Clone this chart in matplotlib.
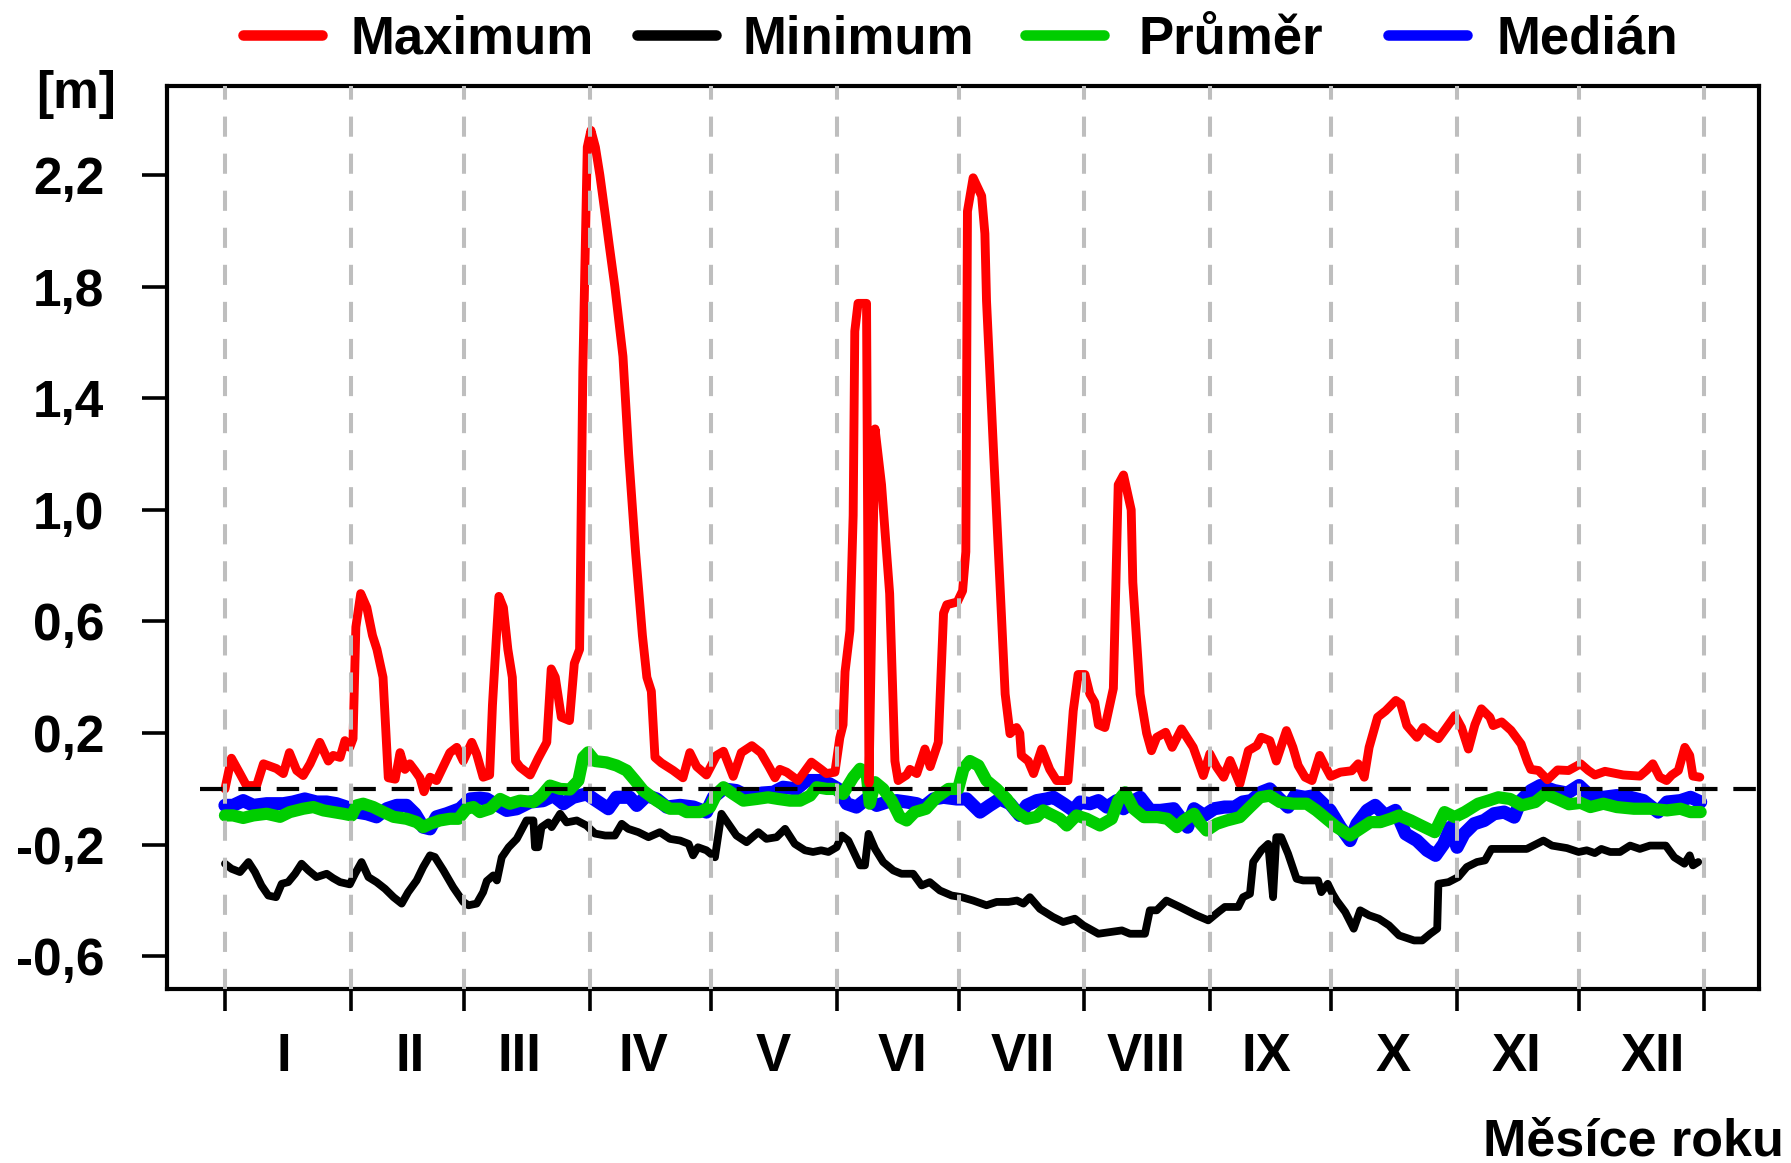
import matplotlib
matplotlib.use("Agg")
import matplotlib.pyplot as plt
from matplotlib.lines import Line2D
import matplotlib.transforms as mtransforms
import numpy as np

# ---------------- data ----------------
months = ["I", "II", "III", "IV", "V", "VI", "VII", "VIII", "IX", "X", "XI", "XII"]
month_days = [31, 28, 31, 30, 31, 30, 31, 31, 30, 31, 30, 31]
month_label_day = [14.6, 45.6, 72.7, 103.2, 135.3, 167.2, 196.8, 227.2, 257.0, 288.2, 318.7, 352.3]
y_ticks = [-0.6, -0.2, 0.2, 0.6, 1.0, 1.4, 1.8, 2.2]
series_names = ["Maximum", "Minimum", "Průměr", "Medián"]
series_colors = ["#FF0000", "#000000", "#00CD00", "#0000FF"]

max_day = [0, 1.6, 3.7, 5.3, 7.8, 9.5, 12.7, 14.4, 15.9, 17.7, 19.3, 21, 23.4, 25.5, 26.7, 28.4,
           29.6, 30.8, 31.6, 32.3, 33.5, 35, 36.4, 37.5, 39.0, 40.3, 42, 43.2, 44.4, 45.6, 46.9,
           48.1, 49.1, 50.6, 52.2, 55.5, 57.2, 58.8, 60.9, 62.1, 63.7, 65.3, 66, 67, 67.6, 68.7,
           69.8, 70.9, 71.7, 72.8, 75.3, 77.3, 79.4, 80.5, 81.5, 83, 85, 86.2, 87.5, 88.3, 89.4,
           90.3, 91.4, 92.5, 93.9, 94.8, 96.2, 98.2, 99.6, 101.3, 103, 104.1, 105.2, 106.1, 107.7,
           110.6, 113, 114.7, 116.4, 118.8, 121.3, 123, 125.4, 127.4, 130, 132.2, 134.2, 135.7,
           136.9, 138.6, 141.4, 144.7, 147.1, 148.4, 150.5, 151.7, 152.5, 153, 154.2, 155, 155.4,
           156.2, 158.3, 158.9, 160.4, 162, 164, 165.3, 166.1, 168.2, 169, 170.7, 172.7, 174,
           176, 177.3, 178.1, 180.7, 182, 182.8, 183.2, 184.6, 186.7, 187.5, 187.9, 189.6, 191.2,
           192.5, 193.7, 195.3, 196.1, 196.5, 198.2, 199.5, 201.5, 203.5, 205.2, 208, 209.3,
           210.5, 212.2, 213.4, 214.6, 215.5, 217.1, 219.2, 220.4, 221.7, 223.6, 224, 225.8,
           227.4, 228.6, 229.9, 232.1, 233.7, 236, 238.9, 241.4, 243, 244.7, 246.4, 248, 250.4,
           252.5, 254.6, 255.7, 257.8, 259.4, 261.9, 263.5, 264.8, 266.5, 268.2, 270.1, 271.5,
           272.8, 275.2, 278, 279.6, 281.1, 282.3, 284.4, 286.4, 288.9, 290.1, 291.6, 294.1,
           295.7, 297.3, 299.4, 301.4, 303.5, 305.1, 306.8, 308.4, 310, 312.1, 312.9, 315, 317.3,
           319.8, 321.4, 322.2, 324.1, 326.3, 328.8, 331.5, 334.5, 336.4, 338, 340.5, 345, 349.1,
           350.7, 352.3, 354, 355.7, 357, 358.6, 360.2, 361.4, 362.2, 363.9]
max_val = [0.00, 0.11, 0.055, 0.012, 0.012, 0.09, 0.073, 0.055, 0.13, 0.066, 0.048, 0.09, 0.167,
           0.10, 0.12, 0.113, 0.173, 0.149, 0.18, 0.58, 0.70, 0.65, 0.55, 0.50, 0.40, 0.04, 0.035,
           0.13, 0.07, 0.09, 0.065, 0.04, -0.01, 0.042, 0.03, 0.13, 0.149, 0.10, 0.167, 0.125,
           0.042, 0.05, 0.30, 0.55, 0.69, 0.65, 0.50, 0.40, 0.10, 0.078, 0.05, 0.11, 0.167, 0.43,
           0.40, 0.257, 0.245, 0.45, 0.50, 1.50, 2.30, 2.36, 2.30, 2.20, 2.05, 1.95, 1.80, 1.55,
           1.20, 0.85, 0.55, 0.40, 0.35, 0.113, 0.093, 0.066, 0.04, 0.13, 0.08, 0.05, 0.12, 0.135,
           0.045, 0.13, 0.155, 0.13, 0.08, 0.04, 0.07, 0.06, 0.03, 0.096, 0.07, 0.055, 0.06, 0.183,
           0.23, 0.42, 0.567, 0.98, 1.64, 1.74, 1.74, 0.02, 1.29, 1.09, 0.70, 0.10, 0.03, 0.05,
           0.07, 0.055, 0.143, 0.08, 0.167, 0.63, 0.66, 0.67, 0.71, 0.85, 2.07, 2.19, 2.125, 1.99,
           1.75, 1.22, 0.74, 0.34, 0.198, 0.22, 0.20, 0.12, 0.10, 0.055, 0.143, 0.07, 0.03, 0.03,
           0.28, 0.41, 0.41, 0.34, 0.31, 0.23, 0.22, 0.36, 1.09, 1.125, 1.00, 0.74, 0.34, 0.20,
           0.137, 0.185, 0.203, 0.149, 0.215, 0.149, 0.048, 0.126, 0.078, 0.042, 0.102, 0.018,
           0.137, 0.155, 0.185, 0.173, 0.10, 0.209, 0.149, 0.084, 0.042, 0.03, 0.12, 0.08, 0.045,
           0.06, 0.065, 0.09, 0.042, 0.149, 0.257, 0.28, 0.317, 0.305, 0.227, 0.185, 0.22, 0.20,
           0.18, 0.22, 0.263, 0.22, 0.143, 0.23, 0.287, 0.257, 0.227, 0.24, 0.21, 0.161, 0.096,
           0.07, 0.066, 0.033, 0.068, 0.066, 0.09, 0.066, 0.05, 0.063, 0.05, 0.046, 0.066, 0.09,
           0.042, 0.03, 0.05, 0.066, 0.149, 0.12, 0.046, 0.042]

min_day = [0, 1.6, 3.7, 5.8, 7.4, 9.0, 10.7, 12.6, 14.0, 15.6, 17.3, 18.9, 20.6, 22.6, 25.1, 26.7,
           28.4, 30.8, 32.1, 33.7, 35.4, 37.4, 39.5, 41.6, 43.6, 45.2, 47.3, 48.9, 50.6, 51.8, 53.9,
           56.3, 58.8, 60.1, 62.1, 63.7, 64.6, 66.2, 67.1, 68.3, 70, 72, 74.4, 76.1, 76.5, 77.3,
           78.1, 79.8, 80.6, 82.7, 84.3, 86.8, 89.2, 91.3, 93.8, 96.2, 97.9, 99.5, 102, 104.5,
           107.3, 109.8, 112.3, 114.4, 115.5, 116.7, 118.8, 120.9, 122.5, 124.2, 126.2, 128.7,
           131.6, 133.6, 136.1, 138.2, 140.6, 143.1, 145.1, 147.1, 148.9, 150.9, 152.2, 153.8,
           156.7, 157.9, 158.8, 160.4, 162.4, 164.9, 166.9, 169.8, 171.9, 173.9, 176.4, 179.3,
           181.8, 184.6, 187.9, 190.4, 193.3, 195.4, 197, 198.6, 201.1, 204.3, 206.8, 209.7,
           211.8, 215.5, 221.3, 223.3, 227, 228.2, 229.9, 232.3, 235.6, 239.7, 242.6, 245.1,
           246.7, 250, 251.2, 252.9, 253.7, 255.7, 257.4, 258.6, 259.4, 260.6, 262.3, 264.4, 266,
           269.7, 270.5, 272.1, 273.3, 274.3, 276.4, 278.5, 280.1, 282.3, 284.7, 287.2, 289.7,
           293.4, 295.4, 297.4, 299.1, 299.4, 301.9, 304.3, 306.4, 308.9, 310.9, 312.5, 315,
           321.2, 325.3, 327.4, 331.1, 334, 336, 338, 339.6, 341.8, 344.2, 346.7, 349.1, 351.6,
           355.5, 357.6, 360.1, 361.4, 362.2, 363.5]
min_val = [-0.268, -0.286, -0.298, -0.262, -0.298, -0.346, -0.382, -0.388, -0.34, -0.334, -0.304,
           -0.268, -0.292, -0.316, -0.304, -0.32, -0.334, -0.342, -0.304, -0.262, -0.316, -0.334,
           -0.358, -0.388, -0.411, -0.37, -0.328, -0.28, -0.238, -0.244, -0.292, -0.352, -0.405,
           -0.417, -0.411, -0.37, -0.33, -0.31, -0.328, -0.245, -0.209, -0.179, -0.113, -0.113,
           -0.209, -0.209, -0.137, -0.12, -0.137, -0.089, -0.12, -0.113, -0.131, -0.16, -0.167,
           -0.167, -0.125, -0.143, -0.155, -0.173, -0.155, -0.179, -0.185, -0.197, -0.238, -0.209,
           -0.22, -0.245, -0.089, -0.125, -0.167, -0.191, -0.155, -0.179, -0.173, -0.143, -0.197,
           -0.22, -0.226, -0.22, -0.226, -0.209, -0.167, -0.185, -0.274, -0.274, -0.161, -0.215,
           -0.262, -0.292, -0.304, -0.304, -0.346, -0.334, -0.364, -0.382, -0.388, -0.40, -0.417,
           -0.405, -0.405, -0.40, -0.411, -0.388, -0.43, -0.459, -0.477, -0.465, -0.489, -0.519,
           -0.507, -0.519, -0.519, -0.435, -0.435, -0.40, -0.423, -0.453, -0.471, -0.441, -0.423,
           -0.423, -0.388, -0.376, -0.262, -0.22, -0.197, -0.388, -0.173, -0.173, -0.232, -0.322,
           -0.328, -0.328, -0.37, -0.34, -0.376, -0.40, -0.441, -0.501, -0.435, -0.453, -0.465,
           -0.489, -0.525, -0.543, -0.543, -0.519, -0.501, -0.34, -0.334, -0.316, -0.28, -0.262,
           -0.256, -0.215, -0.215, -0.215, -0.185, -0.203, -0.212, -0.226, -0.22, -0.23, -0.215,
           -0.226, -0.226, -0.203, -0.215, -0.203, -0.203, -0.245, -0.268, -0.238, -0.274, -0.262]

mean_day = [0, 2, 4.5, 7, 10.3, 13.6, 16, 19.3, 21.8, 24.3, 26.7, 29.2, 31.3, 32.5, 34.1, 36.6,
            39.1, 41.6, 44.8, 47.3, 48.9, 50.6, 53, 55.5, 57.6, 59.6, 61.3, 62.9, 65.4, 67.9,
            70.3, 72.8, 76.1, 78.1, 80.2, 82.7, 85.1, 87.2, 88.4, 89.6, 91.3, 94.1, 96.6, 99.1,
            101.2, 103.2, 106.5, 109.8, 112.3, 113.9, 117.2, 119.7, 121.3, 123, 125.4, 127.9,
            131.2, 134, 136.5, 139.4, 141.9, 144.4, 146, 148.5, 150.5, 152.5, 155, 156.7, 158.3,
            159.1, 160.4, 162.4, 164.5, 166.5, 168.2, 170.2, 173, 175.6, 178.5, 180.9, 182.2,
            183.8, 185.9, 187.9, 190.4, 192.9, 195.3, 197.8, 200.3, 201.9, 203.5, 206, 207.7,
            210.1, 212.6, 215.9, 218.8, 220.4, 222.1, 224.2, 226.7, 230.1, 232.5, 234.9, 236.6,
            239.1, 240.7, 242.2, 244.7, 247.2, 250.4, 252.9, 255.4, 257.8, 260.3, 263.6, 266.9,
            269.3, 271.8, 274.3, 277.6, 280.1, 282.6, 285.1, 287.6, 289.7, 292.6, 295.1, 298.5,
            300.9, 303.4, 305.9, 309.2, 311.7, 314.2, 317.1, 320, 323.3, 325.8, 328.7, 331.6,
            334.5, 336.9, 340.1, 343.4, 347.6, 351.7, 355.8, 359.1, 361.6, 364.1]
mean_val = [-0.095, -0.095, -0.104, -0.095, -0.089, -0.10, -0.083, -0.071, -0.065, -0.077, -0.083,
            -0.089, -0.095, -0.059, -0.053, -0.065, -0.083, -0.10, -0.107, -0.119, -0.137, -0.125,
            -0.113, -0.107, -0.107, -0.071, -0.065, -0.083, -0.071, -0.036, -0.053, -0.042,
            -0.047, -0.024, 0.012, 0.0, -0.002, 0.03, 0.113, 0.131, 0.10, 0.095, 0.084, 0.066,
            0.03, -0.006, -0.042, -0.071, -0.071, -0.083, -0.083, -0.065, -0.018, 0.006, -0.018,
            -0.042, -0.036, -0.03, -0.036, -0.042, -0.042, -0.024, 0.006, 0.0, 0.0, -0.018, 0.042,
            0.072, 0.06, -0.053, 0.024, 0.0, -0.042, -0.101, -0.113, -0.083, -0.071, -0.03, 0.0,
            0.0, 0.072, 0.10, 0.084, 0.03, 0.0, -0.036, -0.083, -0.107, -0.10, -0.077, -0.089,
            -0.107, -0.131, -0.095, -0.107, -0.131, -0.107, -0.042, -0.012, -0.071, -0.101,
            -0.101, -0.107, -0.137, -0.113, -0.089, -0.125, -0.149, -0.125, -0.113, -0.101,
            -0.065, -0.03, -0.024, -0.047, -0.053, -0.053, -0.077, -0.107, -0.137, -0.167,
            -0.143, -0.119, -0.119, -0.107, -0.095, -0.113, -0.131, -0.155, -0.083, -0.101,
            -0.083, -0.053, -0.042, -0.03, -0.036, -0.059, -0.047, -0.018, -0.036, -0.055, -0.05,
            -0.065, -0.053, -0.065, -0.071, -0.071, -0.077, -0.071, -0.083, -0.083]

median_day = [0, 2, 4.5, 7, 10.3, 14.4, 16.8, 19.7, 22.6, 25.1, 27.5, 30, 32.5, 35, 37.4, 39.9,
              42.4, 44.8, 46.9, 48.9, 50.6, 52.2, 54.7, 58, 60.5, 62.9, 64.6, 66.2, 69.5, 72,
              75.3, 78.5, 81, 83.5, 85.9, 89.2, 91.6, 94.6, 96.6, 99.9, 101.6, 104.1, 106.5, 109,
              112.3, 115.6, 118.8, 120.5, 123, 126.2, 129.5, 132.4, 135.3, 137.7, 141, 143.5,
              146.8, 149.2, 151.3, 153.4, 155.8, 158.3, 160.8, 163.3, 165.7, 168.2, 170.7, 172.3,
              174.8, 177.3, 180.5, 183, 186.3, 188.7, 191.2, 193.7, 196.1, 197.8, 200.3, 202.7,
              204.4, 206.9, 209.3, 211, 213.4, 215.5, 217.6, 220, 221.7, 224.2, 225.8, 228.3,
              230.8, 234.1, 237.5, 239.1, 241.6, 244.1, 246.6, 249.1, 251.1, 253.2, 255.7, 257.8,
              259.8, 262.3, 264, 266.5, 268.9, 270.2, 272.7, 275.2, 277.6, 279.3, 281.8, 283.8,
              286.3, 288.8, 291.3, 294.1, 296.6, 298.7, 300.7, 302.4, 304, 305.7, 308.2, 310.7,
              313.1, 315.6, 318.1, 319.7, 322.2, 324.5, 328, 331.2, 334.1, 337, 340.1, 343.4,
              346.7, 350, 353.6, 355.8, 359.1, 361.6, 364.1]
median_val = [-0.059, -0.059, -0.042, -0.059, -0.053, -0.053, -0.047, -0.036, -0.047, -0.047,
              -0.053, -0.065, -0.083, -0.089, -0.10, -0.071, -0.059, -0.059, -0.089, -0.137,
              -0.143, -0.10, -0.089, -0.071, -0.036, -0.033, -0.036, -0.05, -0.077, -0.071,
              -0.047, -0.042, -0.024, -0.053, -0.03, -0.018, -0.042, -0.071, -0.03, -0.03, -0.059,
              -0.024, -0.036, -0.065, -0.059, -0.065, -0.083, -0.03, 0.0, -0.006, -0.03, -0.015,
              -0.012, 0.006, 0.0, 0.03, 0.03, 0.018, 0.0, -0.053, -0.065, -0.036, -0.059, -0.047,
              -0.042, -0.047, -0.053, -0.065, -0.036, -0.03, -0.036, -0.036, -0.083, -0.059,
              -0.036, -0.053, -0.095, -0.059, -0.042, -0.036, -0.03, -0.053, -0.077, -0.047,
              -0.053, -0.042, -0.065, -0.042, -0.071, -0.042, -0.03, -0.077, -0.077, -0.071,
              -0.137, -0.071, -0.095, -0.071, -0.065, -0.065, -0.047, -0.042, -0.012, 0.0, -0.03,
              -0.065, -0.024, -0.03, -0.024, -0.042, -0.077, -0.137, -0.185, -0.125, -0.077,
              -0.059, -0.095, -0.077, -0.161, -0.185, -0.22, -0.238, -0.197, -0.137, -0.209,
              -0.161, -0.125, -0.113, -0.089, -0.083, -0.101, -0.042, -0.006, 0.012, -0.006,
              -0.015, 0.012, -0.027, -0.03, -0.024, -0.03, -0.042, -0.083, -0.047, -0.042, -0.03,
              -0.047]

# ---------------- figure ----------------
plt.rcParams['font.family'] = ['Liberation Sans', 'DejaVu Sans']
plt.rcParams['font.weight'] = 'bold'

W, H = 1791, 1163
fig = plt.figure(figsize=(W / 100, H / 100), dpi=100)


def fx(px):
    return px / W


def fy(py):
    return 1 - py / H


L, R, T, B = 167, 1759, 86, 989
ax = fig.add_axes([fx(L), fy(B), fx(R) - fx(L), fy(T) - fy(B)])
ax.set_xlim(-14.3, 378.5)
ax.set_ylim(-0.717, 2.519)

line_kw = dict(solid_joinstyle='round', solid_capstyle='round')
ax.plot(median_day, median_val, color=series_colors[3], lw=9.5, zorder=2, **line_kw)
ax.plot(mean_day, mean_val, color=series_colors[2], lw=8.8, zorder=3, **line_kw)
ax.plot(min_day, min_val, color=series_colors[1], lw=5.6, zorder=4, **line_kw)
ax.plot(max_day, max_val, color=series_colors[0], lw=6.4, zorder=5, **line_kw)

bounds = np.concatenate([[0], np.cumsum(month_days)])
for b in bounds:
    ax.axvline(b, color='#BEBEBE', lw=2.9, dashes=(5.0, 4.2), zorder=6)
ax.axhline(0, xmin=0.0207, color='black', lw=3.0, dashes=(5.4, 3.8), zorder=7)

for s in ax.spines.values():
    s.set_linewidth(3.0)

ax.set_yticks(y_ticks)
ax.set_yticklabels([f"{v:.1f}".replace('.', ',') for v in y_ticks])
ax.tick_params(axis='y', direction='out', length=18, width=2.6, pad=27, labelsize=37)
ax.set_xticks(bounds)
ax.set_xticklabels([])
ax.tick_params(axis='x', direction='out', length=16, width=2.6)
for lab in ax.get_yticklabels():
    lab.set_fontweight('bold')

trans = mtransforms.blended_transform_factory(ax.transData, ax.transAxes)
y_lab = (B - 1071) / (B - T)
for m, lab in zip(month_label_day, months):
    ax.text(m, y_lab, lab, transform=trans, ha='center', va='baseline',
            fontsize=38, fontweight='bold', clip_on=False)

# legend (manual, R style)
leg_lines = [(243, 322), (637, 716), (1025, 1104), (1388, 1467)]
leg_text_x = [350, 743, 1138, 1497]
for (x0, x1), tx, name, col in zip(leg_lines, leg_text_x, series_names, series_colors):
    fig.add_artist(Line2D([fx(x0), fx(x1)], [fy(35), fy(35)], transform=fig.transFigure,
                          color=col, lw=7.6, solid_capstyle='round'))
    fig.text(fx(tx), fy(53), name, ha='left', va='baseline', fontsize=38, fontweight='bold')

fig.text(fx(36), fy(108), "[m]", ha='left', va='baseline', fontsize=37, fontweight='bold')
fig.text(fx(1784), fy(1155), "Měsíce roku", ha='right', va='baseline', fontsize=37.5,
         fontweight='bold')

fig.savefig("out.png", dpi=100)
